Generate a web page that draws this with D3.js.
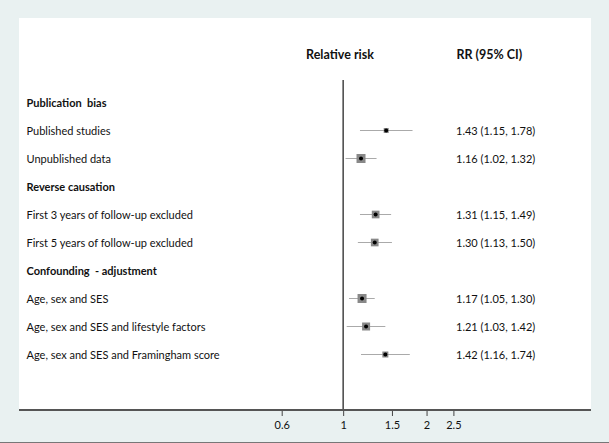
<!DOCTYPE html>
<html><head><meta charset="utf-8">
<script src="https://cdn.jsdelivr.net/npm/d3@7"></script>
<style>
html,body{margin:0;padding:0;background:#e9f1f1;}
text{font-family:Lato,"Open Sans",sans-serif;fill:#111;white-space:pre;}
</style></head>
<body>
<svg id="chart" width="609" height="443"></svg>
<script>
// Data
const groups = ["Publication  bias", "Reverse causation", "Confounding  - adjustment"];
const labels = ["Published studies", "Unpublished data",
  "First 3 years of follow-up excluded", "First 5 years of follow-up excluded",
  "Age, sex and SES", "Age, sex and SES and lifestyle factors", "Age, sex and SES and Framingham score"];
const groupOf = [0, 0, 1, 1, 2, 2, 2];
const rr    = [1.43, 1.16, 1.31, 1.30, 1.17, 1.21, 1.42];
const lower = [1.15, 1.02, 1.15, 1.13, 1.05, 1.03, 1.16];
const upper = [1.78, 1.32, 1.49, 1.50, 1.30, 1.42, 1.74];
const weights = [25, 81, 59, 59, 81, 64, 36];
const tickValues = [0.6, 1, 1.5, 2, 2.5];
const tickLabels = ["0.6", "1", "1.5", "2", "2.5"];

// Build row list
const rows = [];
groups.forEach((g, gi) => {
  rows.push({type: "group", text: g});
  labels.forEach((l, i) => { if (groupOf[i] === gi) rows.push({type: "item", text: l, i}); });
});

const svg = d3.select("#chart");
const panel = {x0: 19, x1: 591, y0: 18, y1: 410};

svg.append("rect").attr("x", panel.x0).attr("y", panel.y0)
  .attr("width", panel.x1 - panel.x0).attr("height", panel.y1 - panel.y0).attr("fill", "#fff");
svg.append("line").attr("x1", 0).attr("x2", 609).attr("y1", 442.5).attr("y2", 442.5)
  .attr("stroke", "#777").attr("stroke-width", 1);

const x = d3.scaleLog().domain([0.6, 2.5]).range([281.7, 453.4]);
const y = d3.scaleLinear().domain([0, rows.length - 1]).range([103.5, 355.5]);
const size = d3.scaleSqrt().domain([0, 100]).range([0, 10]);

// Headers
svg.append("text").attr("x", 340).attr("y", 55).attr("dy", "0.35em").attr("text-anchor", "middle")
  .attr("font-weight", "bold").attr("font-size", 12.5).text("Relative risk");
svg.append("text").attr("x", 456.5).attr("y", 55).attr("dy", "0.35em")
  .attr("font-weight", "bold").attr("font-size", 12.5).text("RR (95% CI)");

// Reference line at 1
svg.append("line").attr("x1", x(1)).attr("x2", x(1)).attr("y1", 80).attr("y2", panel.y1)
  .attr("stroke", "#444").attr("stroke-width", 1.5);

// Row labels
svg.selectAll("text.row").data(rows).join("text").attr("class", "row")
  .attr("x", 26.5).attr("y", (d, k) => y(k)).attr("dy", "0.35em")
  .attr("font-size", 11).attr("font-weight", d => d.type === "group" ? "bold" : "normal")
  .text(d => d.text);

const items = rows.map((d, k) => ({...d, k})).filter(d => d.type === "item");

// CI lines
svg.selectAll("line.ci").data(items).join("line").attr("class", "ci")
  .attr("x1", d => x(lower[d.i])).attr("x2", d => x(upper[d.i]))
  .attr("y1", d => y(d.k) - 1).attr("y2", d => y(d.k) - 1)
  .attr("stroke", "#aaa").attr("stroke-width", 1);

// Weighted squares
svg.selectAll("rect.sq").data(items).join("rect").attr("class", "sq")
  .attr("x", d => x(rr[d.i]) - size(weights[d.i]) / 2)
  .attr("y", d => y(d.k) - 1 - size(weights[d.i]) / 2)
  .attr("width", d => size(weights[d.i])).attr("height", d => size(weights[d.i]))
  .attr("fill", "#888");

// Point estimates
svg.selectAll("circle.pt").data(items).join("circle").attr("class", "pt")
  .attr("cx", d => x(rr[d.i])).attr("cy", d => y(d.k) - 1).attr("r", 2).attr("fill", "#000");

// RR text
svg.selectAll("text.rr").data(items).join("text").attr("class", "rr")
  .attr("x", 456).attr("y", d => y(d.k)).attr("dy", "0.35em").attr("font-size", 11)
  .text(d => `${rr[d.i].toFixed(2)} (${lower[d.i].toFixed(2)}, ${upper[d.i].toFixed(2)})`);

// Axis
const axis = d3.axisBottom(x).tickValues(tickValues).tickFormat((d, i) => tickLabels[i]).tickSize(6).tickPadding(5);
const ag = svg.append("g").attr("transform", `translate(0,${panel.y1})`).call(axis);
ag.select(".domain").remove();
ag.selectAll(".tick line").attr("stroke", "#444");
ag.selectAll(".tick text").attr("font-size", 11).attr("font-family", "Lato,'Open Sans',sans-serif").attr("fill", "#111");
svg.append("line").attr("x1", panel.x0).attr("x2", panel.x1).attr("y1", panel.y1).attr("y2", panel.y1)
  .attr("stroke", "#555").attr("stroke-width", 2);
</script>
</body></html>
